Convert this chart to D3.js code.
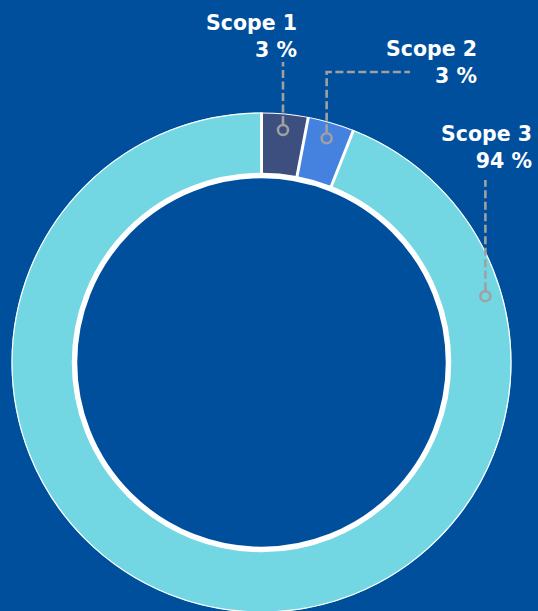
<!DOCTYPE html>
<meta charset="utf-8">
<head>
<script src="https://d3js.org/d3.v7.min.js"></script>
<style>
  html, body { margin: 0; padding: 0; background: #004f9d; }
  svg { display: block; }
</style>
</head>
<body>
<div id="my_dataviz"></div>
<script>

// data
var categories = ["Scope 1", "Scope 2", "Scope 3"];
var values = [3, 3, 94];
var percentLabels = ["3 %", "3 %", "94 %"];
var colors = ["#3c4f7e", "#4581df", "#72d6e3"];

var width = 538, height = 611;
var cx = 261.5, cy = 362.5;
var outerR = 250, innerR = 188;

var svg = d3.select("#my_dataviz")
  .append("svg")
    .attr("width", width)
    .attr("height", height);

svg.append("rect")
  .attr("width", width).attr("height", height)
  .attr("fill", "#004f9d");

var g = svg.append("g")
  .attr("transform", "translate(" + cx + "," + cy + ")");

var pie = d3.pie().sort(null).value(function(d) { return d; });
var arcs = pie(values);

var arc = d3.arc().innerRadius(innerR).outerRadius(outerR);

// slices
g.selectAll(".slice")
  .data(arcs)
  .enter()
  .append("path")
    .attr("class", "slice")
    .attr("d", arc)
    .attr("fill", function(d, i) { return colors[i]; });

// white separators between slices
g.selectAll(".sep")
  .data(arcs)
  .enter()
  .append("line")
    .attr("x1", function(d) { return d3.pointRadial(d.startAngle, innerR)[0]; })
    .attr("y1", function(d) { return d3.pointRadial(d.startAngle, innerR)[1]; })
    .attr("x2", function(d) { return d3.pointRadial(d.startAngle, outerR)[0]; })
    .attr("y2", function(d) { return d3.pointRadial(d.startAngle, outerR)[1]; })
    .attr("stroke", "#fff")
    .attr("stroke-width", 3);

// outer thin edge and inner thick ring
g.append("circle")
  .attr("r", outerR - 0.5)
  .attr("fill", "none")
  .attr("stroke", "#fff")
  .attr("stroke-width", 1.2);

g.append("circle")
  .attr("r", 187)
  .attr("fill", "none")
  .attr("stroke", "#fff")
  .attr("stroke-width", 5.5);

// leader lines and labels
var markerR = 233.5;
// angle where each leader meets the ring (scope 3 is placed on the right)
var markerAngle = [
  (arcs[0].startAngle + arcs[0].endAngle) / 2,
  (arcs[1].startAngle + arcs[1].endAngle) / 2,
  73.5 * Math.PI / 180
];
// label anchor (right edge of text) and leader paths
var labelPos = [
  {x: 297, y: 30, path: function(p) { return [[p[0], p[1] - 6], [p[0], 62]]; }},
  {x: 477, y: 56, path: function(p) { return [[p[0], p[1] - 6], [p[0], 72], [410, 72]]; }},
  {x: 532, y: 141, path: function(p) { return [[p[0], p[1] - 6], [p[0], 180]]; }}
];

var lineGen = d3.line();

categories.forEach(function(c, i) {
  var p = d3.pointRadial(markerAngle[i], markerR);
  p = [p[0] + cx, p[1] + cy];
  if (i == 0) p[0] = Math.round(p[0]);

  svg.append("path")
    .attr("d", lineGen(labelPos[i].path(p)))
    .attr("fill", "none")
    .attr("stroke", "#a0a0a0")
    .attr("stroke-width", 2.6)
    .attr("stroke-dasharray", "8,3.5");

  svg.append("circle")
    .attr("cx", p[0]).attr("cy", p[1])
    .attr("r", 5)
    .attr("fill", "none")
    .attr("stroke", "#a0a0a0")
    .attr("stroke-width", 2.5);

  var t = svg.append("text")
    .attr("x", labelPos[i].x)
    .attr("y", labelPos[i].y)
    .attr("text-anchor", "end")
    .style("font-family", "'DejaVu Sans', Verdana, sans-serif")
    .style("font-weight", "bold")
    .style("font-size", "20.5px")
    .attr("fill", "#fff");
  t.append("tspan").attr("x", labelPos[i].x).text(c);
  t.append("tspan").attr("x", labelPos[i].x).attr("dy", 26.5).text(percentLabels[i]);
});

</script>
</body>
</html>
